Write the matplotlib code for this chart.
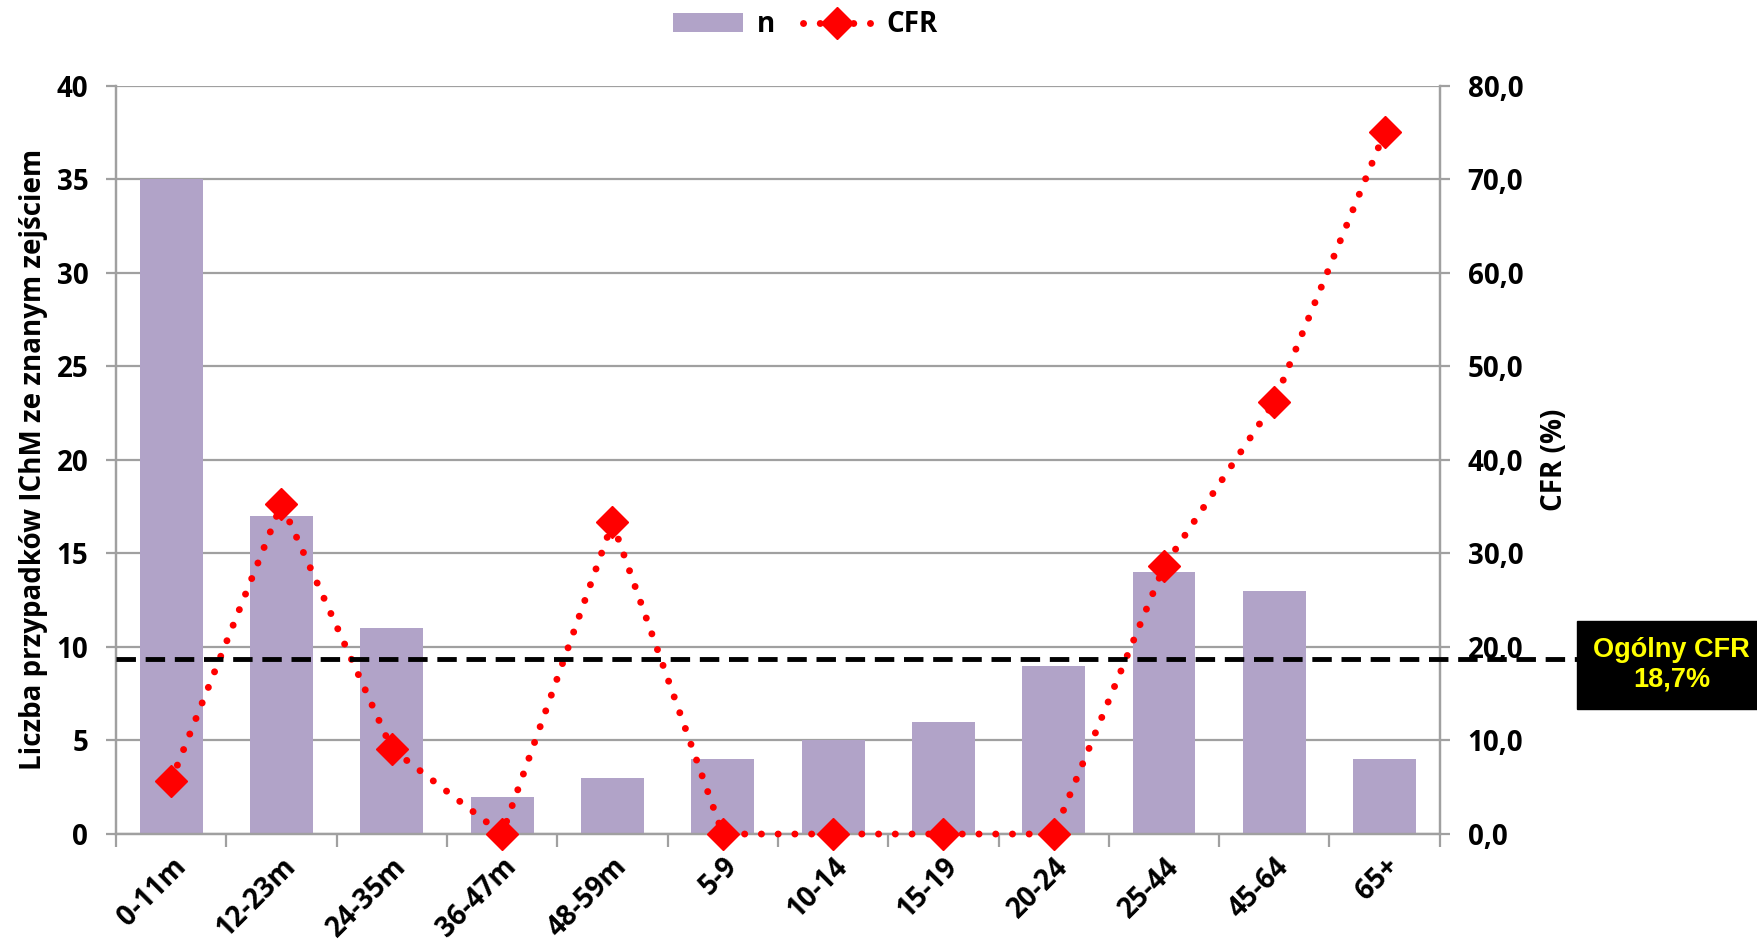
import numpy as np
import matplotlib
matplotlib.use("Agg")
import matplotlib.pyplot as plt
from matplotlib.ticker import FuncFormatter
from matplotlib.lines import Line2D
from matplotlib.patches import Patch

categories = ["0-11m", "12-23m", "24-35m", "36-47m", "48-59m", "5-9",
              "10-14", "15-19", "20-24", "25-44", "45-64", "65+"]
n_cases = [35, 17, 11, 2, 3, 4, 5, 6, 9, 14, 13, 4]
cfr = [5.7, 35.3, 9.1, 0.0, 33.3, 0.0, 0.0, 0.0, 0.0, 28.6, 46.2, 75.0]
overall_cfr = 18.7

bar_color = "#B1A3C8"
grid_color = "#A0A0A0"
dot_style = (0, (0.01, 2.4))
fs = 20

plt.rcParams["font.family"] = ["Open Sans", "DejaVu Sans"]
plt.rcParams["font.weight"] = "bold"

fig = plt.figure(figsize=(17.58, 9.51), dpi=100)
ax = fig.add_axes([0.066, 0.123, 0.753, 0.787])
ax2 = ax.twinx()

x = np.arange(len(categories))
ax.bar(x, n_cases, width=0.57, color=bar_color, zorder=2)
ax.set_xlim(-0.5, len(categories) - 0.5)
ax.set_ylim(0, 40)
ax.set_yticks(range(0, 41, 5))
ax.grid(True, axis="y", color=grid_color, linewidth=1.6, zorder=0)
ax.set_axisbelow(True)

ax2.plot(x, cfr, color="red", linewidth=5, linestyle=dot_style,
         dash_capstyle="round", marker="D", markersize=16, zorder=5,
         clip_on=False)
ax2.set_ylim(0, 80)
ax2.set_yticks(range(0, 81, 10))
ax2.yaxis.set_major_formatter(FuncFormatter(lambda v, p: f"{v:.1f}".replace(".", ",")))

for a in (ax, ax2):
    a.spines["top"].set_visible(False)
    for s in ("left", "right", "bottom"):
        a.spines[s].set_color(grid_color)
        a.spines[s].set_linewidth(1.6)
    a.tick_params(axis="y", colors=grid_color, labelcolor="black", length=7,
                  width=1.6, pad=13, labelsize=fs)
    for lbl in a.get_yticklabels():
        lbl.set_fontweight("bold")

ax.set_xticks(x)
ax.set_xticklabels(categories, rotation=45, ha="right", rotation_mode="anchor",
                   fontsize=fs, fontweight="bold")
ax.tick_params(axis="x", length=0, pad=13)
ax.set_xticks(np.arange(-0.5, len(categories), 1), minor=True)
ax.tick_params(axis="x", which="minor", length=9, width=1.6, color=grid_color)

ax.set_ylabel("Liczba przypadków IChM ze znanym zejściem", fontsize=fs,
              fontweight="bold", labelpad=6)
ax2.set_ylabel("CFR (%)", fontsize=fs, fontweight="bold", labelpad=12)

# overall CFR reference line
trans = matplotlib.transforms.blended_transform_factory(ax2.transAxes, ax2.transData)
ax2.plot([0, 1.25], [overall_cfr, overall_cfr], transform=trans, color="black",
         linewidth=3.5, linestyle=(0, (4, 2)), clip_on=False, zorder=6)
ax2.text(1.175, 0.226, f"Ogólny CFR\n{overall_cfr:.1f}%".replace(".", ","),
         transform=ax2.transAxes, ha="center", va="center", color="yellow",
         fontsize=19.5, fontweight="bold", family="Liberation Sans",
         linespacing=1.2, zorder=7,
         bbox=dict(boxstyle="square,pad=0.6", facecolor="black", edgecolor="black"))

handles = [Patch(facecolor=bar_color, edgecolor="none"),
           Line2D([], [], color="red", linewidth=5, linestyle=dot_style,
                  dash_capstyle="round", marker="D", markersize=16)]
fig.legend(handles, ["n", "CFR"], loc="center", bbox_to_anchor=(0.458, 0.974),
           ncol=2, frameon=False, handlelength=2.5,
           handleheight=0.7, columnspacing=1.0, handletextpad=0.5,
           prop={"weight": "bold", "size": fs})

fig.savefig("out.png", dpi=100)
